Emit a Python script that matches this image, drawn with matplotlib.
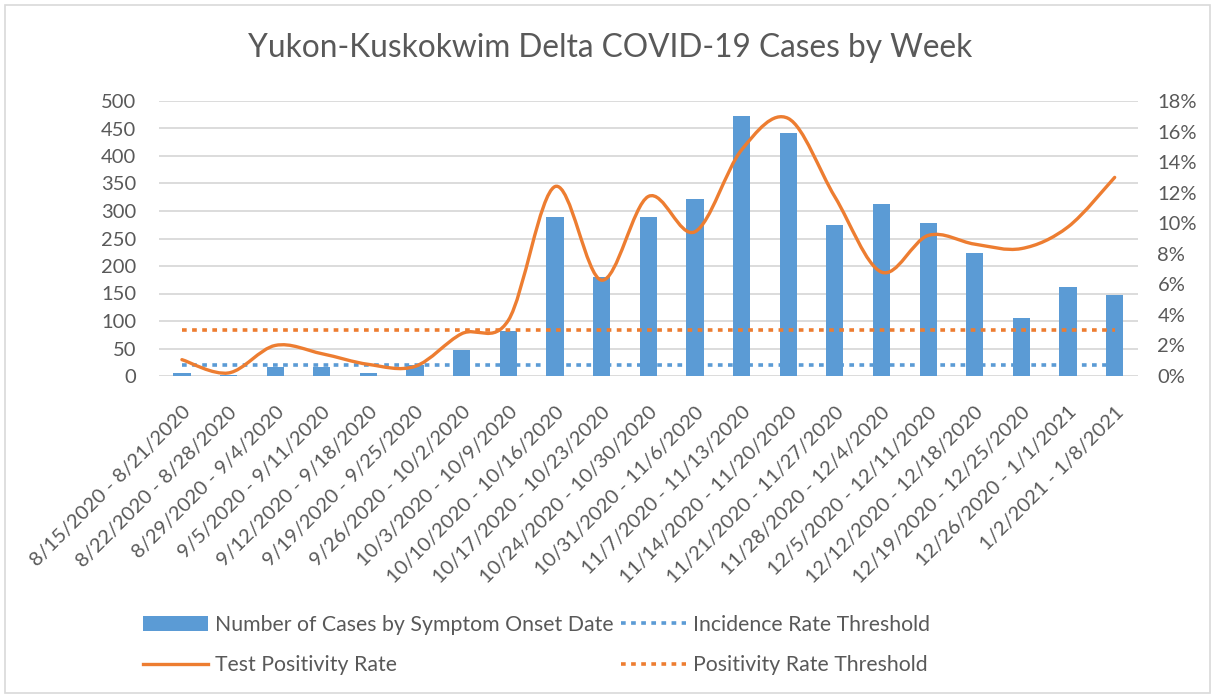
import matplotlib
matplotlib.use('Agg')
import matplotlib.pyplot as plt
import numpy as np
from matplotlib.path import Path
from matplotlib.patches import PathPatch, Rectangle
from matplotlib.lines import Line2D
from matplotlib.ticker import FuncFormatter
import matplotlib.transforms as mtransforms

plt.rcParams['font.family'] = ['Lato', 'DejaVu Sans']

# ---------------- data ----------------
week_labels = [
    "8/15/2020 - 8/21/2020", "8/22/2020 - 8/28/2020", "8/29/2020 - 9/4/2020",
    "9/5/2020 - 9/11/2020", "9/12/2020 - 9/18/2020", "9/19/2020 - 9/25/2020",
    "9/26/2020 - 10/2/2020", "10/3/2020 - 10/9/2020", "10/10/2020 - 10/16/2020",
    "10/17/2020 - 10/23/2020", "10/24/2020 - 10/30/2020", "10/31/2020 - 11/6/2020",
    "11/7/2020 - 11/13/2020", "11/14/2020 - 11/20/2020", "11/21/2020 - 11/27/2020",
    "11/28/2020 - 12/4/2020", "12/5/2020 - 12/11/2020", "12/12/2020 - 12/18/2020",
    "12/19/2020 - 12/25/2020", "12/26/2020 - 1/1/2021", "1/2/2021 - 1/8/2021",
]
cases = [5, 2, 16, 16, 5, 20, 48, 82, 289, 180, 289, 322, 473, 441, 275, 312,
         279, 223, 105, 161, 147]
positivity_pct = [1.07, 0.2, 2.0, 1.46, 0.76, 0.63, 2.77, 3.65, 12.4, 6.27, 11.75,
                  9.44, 14.8, 16.86, 11.73, 6.8, 9.2, 8.63, 8.34, 9.76, 13.0]
incidence_threshold = 20      # cases (left axis)
positivity_threshold = 3.0    # percent (right axis)

left_ticks = list(range(0, 501, 50))
right_ticks = list(range(0, 19, 2))

# ---------------- style ----------------
BLUE = '#5B9BD5'
ORANGE = '#ED7D31'
GRID = '#D9D9D9'
TXT = '#595959'
W, H = 1215, 698
TICK_FS = 14.5
LEG_FS = 15.3

fig = plt.figure(figsize=(W / 100, H / 100), dpi=100)
ax = fig.add_axes([158.6 / W, 1 - 376 / H, (1138 - 158.6) / W, (376 - 101) / H])
ax2 = ax.twinx()

x = np.arange(len(cases))

# incidence threshold (behind bars)
inc_line, = ax.plot(x, [incidence_threshold] * len(x), color=BLUE, lw=2.6,
                    linestyle=(0, (1.3, 1.5)), zorder=2)
bars = ax.bar(x, cases, width=0.37, color=BLUE, zorder=3)

ax.set_xlim(-0.5, len(x) - 0.5)
ax.set_ylim(0, 500)
ax.set_yticks(left_ticks)
ax.yaxis.grid(True, color=GRID, lw=1.3, zorder=0)
ax.set_axisbelow(True)
for s in ax.spines.values():
    s.set_visible(False)
for s in ax2.spines.values():
    s.set_visible(False)

ax.set_xticks(x)
ax.set_xticklabels(week_labels, rotation=45, ha='right', va='center',
                   rotation_mode='anchor', fontsize=TICK_FS, color=TXT)
ax.tick_params(axis='x', length=0, pad=24)
ax.tick_params(axis='y', length=0, pad=16, labelsize=TICK_FS, labelcolor=TXT)
offset = mtransforms.ScaledTranslation(6 / 100, 0, fig.dpi_scale_trans)
for lab in ax.get_xticklabels():
    lab.set_transform(lab.get_transform() + offset)

# right axis
ax2.set_ylim(0, 18)
ax2.set_yticks(right_ticks)
ax2.yaxis.set_major_formatter(FuncFormatter(lambda v, p: f"{v:.0f}%"))
ax2.tick_params(axis='y', length=0, pad=14, labelsize=TICK_FS, labelcolor=TXT)

# positivity threshold
pos_thr_line, = ax2.plot(x, [positivity_threshold] * len(x), color=ORANGE, lw=2.6,
                         linestyle=(0, (1.3, 1.5)), zorder=3)

# smoothed positivity line (Bezier through the data points, Excel-like)
pts = np.column_stack([x, positivity_pct]).astype(float)
verts = [tuple(pts[0])]
codes = [Path.MOVETO]
n = len(pts)
for i in range(n - 1):
    p0 = pts[i - 1] if i > 0 else pts[i]
    p1 = pts[i]
    p2 = pts[i + 1]
    p3 = pts[i + 2] if i + 2 < n else pts[i + 1]
    c1 = p1 + (p2 - p0) / 6.0
    c2 = p2 - (p3 - p1) / 6.0
    verts += [tuple(c1), tuple(c2), tuple(p2)]
    codes += [Path.CURVE4] * 3
ax2.add_patch(PathPatch(Path(verts, codes), fill=False, edgecolor=ORANGE, lw=2.4,
                        capstyle='round', joinstyle='round', zorder=4))
pos_handle = Line2D([], [], color=ORANGE, lw=2.4)

# title
fig.text(0.502, 1 - 57 / H, "Yukon-Kuskokwim Delta COVID-19 Cases by Week",
         ha='center', va='baseline', fontsize=22.8, color=TXT)

# legend
fig.legend([bars, pos_handle, inc_line, pos_thr_line],
           ["Number of Cases by Symptom Onset Date", "Test Positivity Rate",
            "Incidence Rate Threshold", "Positivity Rate Threshold"],
           ncol=2, loc='center left', bbox_to_anchor=(143 / W, 1 - 645 / H),
           frameon=False, fontsize=LEG_FS, labelcolor=TXT, borderpad=0,
           borderaxespad=0, handlelength=3.05, handletextpad=0.33,
           columnspacing=0.35, labelspacing=0.95)

# chart border
fig.add_artist(Rectangle((5 / W, 5 / H), (W - 10) / W, (H - 10) / H,
                         transform=fig.transFigure, fill=False,
                         edgecolor=GRID, lw=1.2))

fig.savefig('out.png', dpi=100)
